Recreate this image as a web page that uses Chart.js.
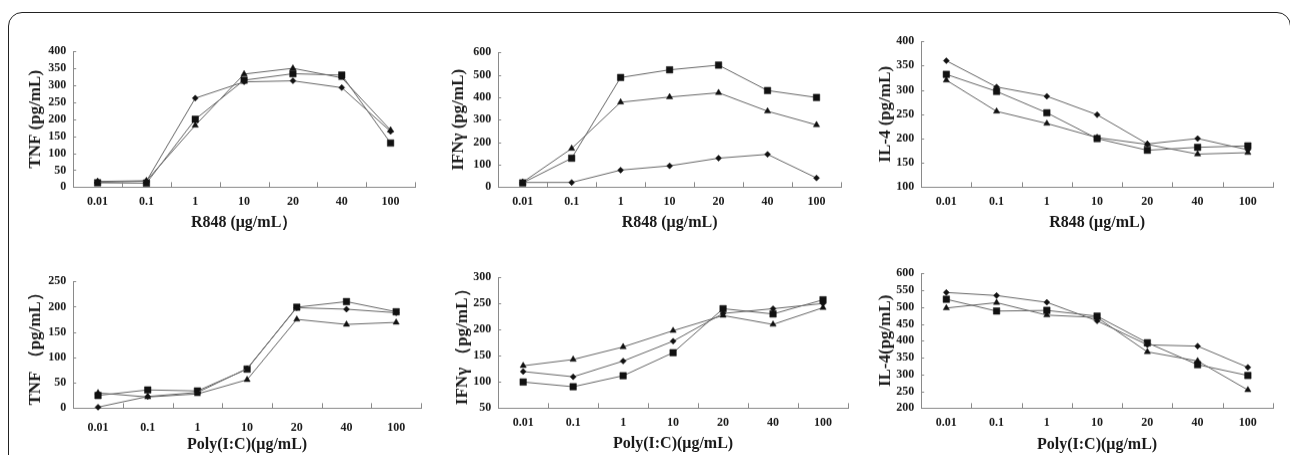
<!DOCTYPE html>
<html>
<head>
<meta charset="utf-8">
<script src="https://cdn.jsdelivr.net/npm/chart.js@4/dist/chart.umd.min.js"></script>
<style>
  html, body { margin: 0; padding: 0; background: #fff; width: 1290px; height: 455px; overflow: hidden; }
  body { position: relative; }
  #frame { position: absolute; left: 8px; top: 12px; width: 1283px; height: 480px; border: 1.5px solid #222; border-radius: 14px; box-sizing: border-box; }
  canvas { position: absolute; }
</style>
</head>
<body>
<div id="frame"></div>
<script>
// x categories (dose)
var doses = ["0.01", "0.1", "1", "10", "20", "40", "100"];

// R848 stimulation
var tnfR848Diamond  = [14, 18, 262, 310, 313, 293, 164];
var tnfR848Square   = [13, 12, 200, 315, 334, 330, 130];
var tnfR848Triangle = [17, 19, 182, 333, 350, 322, 168];

var ifnR848Diamond  = [21, 21, 76, 95, 129, 146, 41];
var ifnR848Square   = [19, 129, 488, 522, 543, 430, 399];
var ifnR848Triangle = [22, 172, 378, 401, 420, 338, 277];

var il4R848Diamond  = [360, 306, 287, 249, 189, 200, 177];
var il4R848Square   = [332, 297, 253, 200, 176, 182, 185];
var il4R848Triangle = [320, 256, 231, 202, 188, 168, 171];

// Poly(I:C) stimulation
var tnfPolyDiamond  = [2, 23, 31, 78, 198, 195, 188];
var tnfPolySquare   = [25, 36, 34, 77, 199, 210, 190];
var tnfPolyTriangle = [30, 22, 28, 56, 175, 165, 169];

var ifnPolyDiamond  = [120, 110, 140, 178, 231, 240, 250];
var ifnPolySquare   = [100, 91, 112, 156, 240, 230, 257];
var ifnPolyTriangle = [131, 143, 167, 198, 227, 210, 242];

var il4PolyDiamond  = [543, 534, 514, 459, 388, 384, 321];
var il4PolySquare   = [523, 488, 490, 473, 394, 329, 297];
var il4PolyTriangle = [497, 513, 476, 469, 367, 340, 254];

var lineColor = "#666";
var axisColor = "#8a8a8a";
var markColor = "#111";
var textColor = "#1a1a1a";
var fontFamily = "'Liberation Serif', 'Times New Roman', serif";

// layout of each panel: plot box [left, top, right, bottom] in page pixels
var panels = [
  { box: [73, 45, 415, 187],   yTitleX: 35,  xTitleY: 222, xPad: 7,  yMin: 0,   yMax: 400, step: 50,
    yTitle: "TNF (pg/mL)", xTitle: "R848 (μg/mL）", series: [tnfR848Diamond, tnfR848Square, tnfR848Triangle] },
  { box: [498, 46, 841, 187],  yTitleX: 458, xTitleY: 222, xPad: 7,  yMin: 0,   yMax: 600, step: 100,
    yTitle: "IFNγ (pg/mL)", xTitle: "R848 (μg/mL)", series: [ifnR848Diamond, ifnR848Square, ifnR848Triangle] },
  { box: [921, 35, 1273, 187], yTitleX: 885, xTitleY: 222, xPad: 7,  yMin: 100, yMax: 400, step: 50,
    yTitle: "IL-4 (pg/mL)", xTitle: "R848 (μg/mL)", series: [il4R848Diamond, il4R848Square, il4R848Triangle] },
  { box: [73, 275, 421, 408],  yTitleX: 35,  xTitleY: 444, xPad: 12, yMin: 0,   yMax: 250, step: 50,
    yTitle: "TNF （pg/mL）", xTitle: "Poly(I:C)(μg/mL)", series: [tnfPolyDiamond, tnfPolySquare, tnfPolyTriangle] },
  { box: [498, 271, 848, 408], yTitleX: 462, xTitleY: 443, xPad: 7,  yMin: 50,  yMax: 300, step: 50,
    yTitle: "IFNγ （pg/mL）", xTitle: "Poly(I:C)(μg/mL)", series: [ifnPolyDiamond, ifnPolySquare, ifnPolyTriangle] },
  { box: [921, 267, 1273, 408], yTitleX: 885, xTitleY: 444, xPad: 7, yMin: 200, yMax: 600, step: 50,
    yTitle: "IL-4(pg/mL)", xTitle: "Poly(I:C)(μg/mL)", series: [il4PolyDiamond, il4PolySquare, il4PolyTriangle] }
];

var markers = [
  { style: "rectRot", radius: 3 },
  { style: "rect", radius: 4.6 },
  { style: "triangle", radius: 3.6 }
];

// small tick marks pointing into the plot, like the original figure
var innerTicks = {
  id: "innerTicks",
  afterDraw: function (chart) {
    var ctx = chart.ctx, xs = chart.scales.x, ys = chart.scales.y;
    var n = xs.ticks.length;
    ctx.save();
    ctx.strokeStyle = axisColor;
    ctx.lineWidth = 1;
    ctx.beginPath();
    for (var i = 1; i <= n; i++) {
      var px = Math.round(xs.left + i * xs.width / n) + 0.5;
      ctx.moveTo(px, xs.top);
      ctx.lineTo(px, xs.top - 5);
    }
    for (var j = 0; j < ys.ticks.length; j++) {
      var py = Math.round(ys.getPixelForTick(j)) + 0.5;
      ctx.moveTo(ys.right, py);
      ctx.lineTo(ys.right + 3, py);
    }
    ctx.stroke();
    ctx.restore();
  }
};

var yTitleFont = { family: fontFamily, size: 17, weight: "bold", lineHeight: 1.2 };
var xTitleFont = { family: fontFamily, size: 16, weight: "bold", lineHeight: 1.2 };
var tickFont = { family: fontFamily, size: 12, weight: "bold", lineHeight: 1.2 };
var padTop = 8, padRight = 12;

panels.forEach(function (p) {
  var l = p.box[0], t = p.box[1], r = p.box[2], b = p.box[3];
  var yW = l - (p.yTitleX - yTitleFont.size * 1.2 / 2);
  var xH = p.xTitleY + xTitleFont.size * 1.2 / 2 - b;
  var canvas = document.createElement("canvas");
  var cw = r - l + yW + padRight;
  var chh = padTop + (b - t) + xH;
  canvas.width = cw;
  canvas.height = chh;
  canvas.style.left = (l - yW) + "px";
  canvas.style.top = (t - padTop) + "px";
  canvas.style.width = cw + "px";
  canvas.style.height = chh + "px";
  document.body.appendChild(canvas);

  new Chart(canvas.getContext("2d"), {
    type: "line",
    data: {
      labels: doses,
      datasets: p.series.map(function (values, k) {
        return {
          data: values,
          borderColor: lineColor,
          borderWidth: 1,
          pointStyle: markers[k].style,
          pointRadius: markers[k].radius,
          pointBackgroundColor: markColor,
          pointBorderColor: markColor,
          pointBorderWidth: 0.5,
          tension: 0,
          fill: false,
          clip: false
        };
      })
    },
    options: {
      responsive: false,
      animation: false,
      events: [],
      layout: { padding: { top: padTop, right: padRight, left: 0, bottom: 0 } },
      plugins: { legend: { display: false }, tooltip: { enabled: false } },
      scales: {
        x: {
          type: "category",
          offset: true,
          grid: { display: true, drawOnChartArea: false, drawTicks: false, offset: true, color: "transparent" },
          border: { display: true, color: axisColor, width: 1 },
          ticks: { color: textColor, font: tickFont, padding: p.xPad, maxRotation: 0, autoSkip: false },
          title: { display: true, text: p.xTitle, color: textColor, font: xTitleFont, padding: 0 },
          afterFit: function (s) { s.height = xH; }
        },
        y: {
          min: p.yMin,
          max: p.yMax,
          grid: { display: true, drawOnChartArea: false, drawTicks: false, color: "transparent" },
          border: { display: true, color: axisColor, width: 1 },
          ticks: { stepSize: p.step, color: textColor, font: tickFont, padding: 7, autoSkip: false },
          title: { display: true, text: p.yTitle, color: textColor, font: yTitleFont, padding: 0 },
          afterFit: function (s) { s.width = yW; }
        }
      }
    },
    plugins: [innerTicks]
  });
});
</script>
</body>
</html>
